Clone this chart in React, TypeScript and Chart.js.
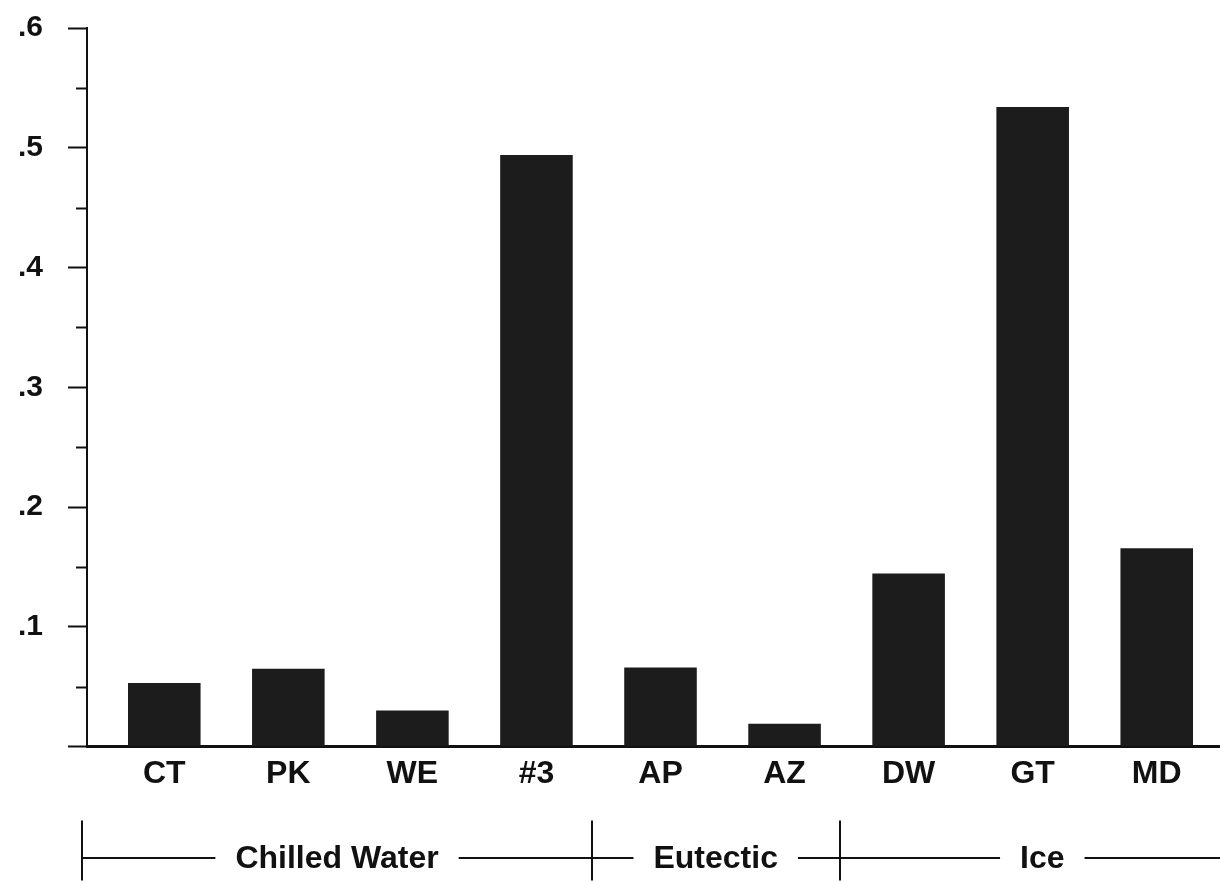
import React, { useEffect, useRef } from "react";
import { Chart, registerables } from "chart.js";

Chart.register(...registerables);

const categories = ["CT", "PK", "WE", "#3", "AP", "AZ", "DW", "GT", "MD"];
const values = [0.053, 0.065, 0.03, 0.494, 0.066, 0.019, 0.1445, 0.534, 0.1655];
const yTicks = [0, 0.1, 0.2, 0.3, 0.4, 0.5, 0.6];
const yMinorTicks = [0.05, 0.15, 0.25, 0.35, 0.45, 0.55];
const groupNames = ["Chilled Water", "Eutectic", "Ice"];
// group boundaries expressed in category-index units
const groupBounds = [-0.66, 3.445, 5.445, 8.71];

const INK = "#111111";
const FONT = "'Liberation Sans', Arial, Helvetica, sans-serif";

const decorPlugin = {
  id: "decor",
  afterDraw(chart: any) {
    const { ctx, chartArea } = chart;
    const x = chart.scales.x;
    const y = chart.scales.y;
    ctx.save();
    ctx.strokeStyle = INK;
    ctx.fillStyle = INK;
    // minor y ticks
    ctx.lineWidth = 2;
    yMinorTicks.forEach((v) => {
      const py = Math.round(y.getPixelForValue(v)) + 0.5;
      ctx.beginPath();
      ctx.moveTo(chartArea.left - 11, py);
      ctx.lineTo(chartArea.left, py);
      ctx.stroke();
    });
    // group brackets
    const lineY = chartArea.bottom + 111.5;
    const vTop = chartArea.bottom + 74;
    const vBot = chartArea.bottom + 134;
    ctx.font = `bold 32px ${FONT}`;
    ctx.textAlign = "center";
    ctx.textBaseline = "middle";
    const gap = 20;
    for (let i = 0; i < groupNames.length; i++) {
      const L = x.getPixelForValue(groupBounds[i]);
      const R = x.getPixelForValue(groupBounds[i + 1]);
      const c = (L + R) / 2;
      const w = ctx.measureText(groupNames[i]).width;
      ctx.fillText(groupNames[i], c, lineY + 1);
      ctx.lineWidth = 2;
      ctx.beginPath();
      ctx.moveTo(L, lineY);
      ctx.lineTo(c - w / 2 - gap, lineY);
      ctx.moveTo(c + w / 2 + gap, lineY);
      ctx.lineTo(R, lineY);
      ctx.stroke();
    }
    ctx.lineWidth = 2;
    for (let i = 0; i < groupBounds.length; i++) {
      const px = Math.round(x.getPixelForValue(groupBounds[i]));
      ctx.beginPath();
      ctx.moveTo(px, vTop);
      ctx.lineTo(px, vBot);
      ctx.stroke();
    }
    ctx.restore();
  },
};

export default function App() {
  const ref = useRef<HTMLCanvasElement | null>(null);

  useEffect(() => {
    if (!ref.current) return;
    const chart = new Chart(ref.current, {
      type: "bar",
      data: {
        labels: categories,
        datasets: [
          {
            data: values.map((v, i) => ({ x: i, y: v })),
            backgroundColor: "#1c1c1c",
            borderWidth: 0,
            barPercentage: 0.585,
            categoryPercentage: 1,
          },
        ],
      },
      options: {
        animation: false,
        responsive: false,
        devicePixelRatio: 1,
        layout: { padding: { top: 28, right: 0, bottom: 0, left: 0 } },
        plugins: {
          legend: { display: false },
          tooltip: { enabled: false },
        },
        scales: {
          x: {
            type: "linear",
            offset: false,
            min: -0.623,
            max: 8.51,
            afterBuildTicks: (scale: any) => {
              scale.ticks = categories.map((_, i) => ({ value: i }));
            },
            afterFit: (scale: any) => {
              scale.height = 134.5;
              scale.paddingLeft = 0;
              scale.paddingRight = 0;
            },
            grid: { display: false, drawTicks: false },
            border: { display: true, color: INK, width: 3 },
            ticks: {
              autoSkip: false,
              maxRotation: 0,
              padding: 8,
              color: INK,
              font: { family: FONT, size: 32, weight: "bold" },
              callback: (v: any) => categories[Math.round(Number(v))] ?? "",
            },
          },
          y: {
            min: 0,
            max: 0.6,
            afterBuildTicks: (scale: any) => {
              scale.ticks = yTicks.map((v) => ({ value: v }));
            },
            afterFit: (scale: any) => {
              scale.width = 87;
              scale.paddingTop = 0;
              scale.paddingBottom = 0;
            },
            grid: {
              display: true,
              drawOnChartArea: false,
              drawTicks: true,
              tickLength: 19,
              tickWidth: 2,
              tickColor: INK,
            },
            border: { display: true, color: INK, width: 2 },
            ticks: {
              padding: 25,
              color: INK,
              font: { family: FONT, size: 30, weight: "bold" },
              callback: (v: any) => {
                const n = Number(v);
                if (n === 0) return "";
                return n.toFixed(1).replace(/^0/, "");
              },
            },
          },
        },
      },
      plugins: [decorPlugin],
    });
    return () => chart.destroy();
  }, []);

  return (
    <div style={{ position: "absolute", left: 0, top: 0, width: 1220, height: 881, background: "#fff" }}>
      <canvas ref={ref} width={1220} height={881} style={{ display: "block", width: 1220, height: 881 }} />
    </div>
  );
}
